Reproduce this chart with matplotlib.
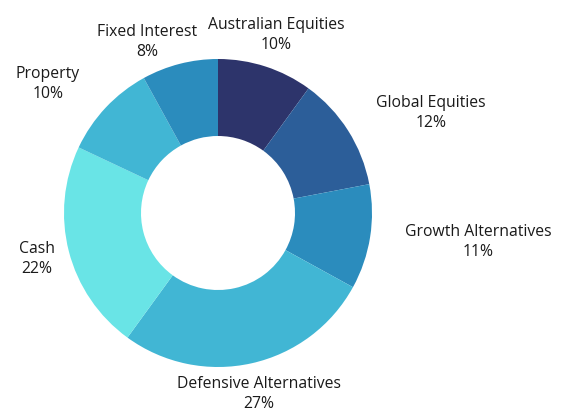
import matplotlib.pyplot as plt

labels = ['Australian Equities', 'Global Equities', 'Growth Alternatives',
          'Defensive Alternatives', 'Cash', 'Property', 'Fixed Interest']
shares = [10, 12, 11, 27, 22, 10, 8]
colors = ['#2d346b', '#2c5e99', '#2b8cbd', '#41b6d4', '#69e4e6', '#41b6d4', '#2b8cbd']

# label centres in pixels (x, y from top) of the 566x409 image
label_pos = [(276, 35), (431, 113), (478, 242), (259, 394), (37, 259), (48, 84), (147, 42)]

W, H = 566, 409
fig = plt.figure(figsize=(W / 100, H / 100), dpi=100)
cx, cy, r = 218, 213, 154
ax = fig.add_axes([(cx - r) / W, (H - cy - r) / H, 2 * r / W, 2 * r / H])

ax.pie(shares, colors=colors, startangle=90, counterclock=False, radius=1,
       wedgeprops=dict(width=0.5, linewidth=0))
ax.set_xlim(-1, 1)
ax.set_ylim(-1, 1)
ax.set_aspect('equal')
ax.axis('off')

for lab, val, (px, py) in zip(labels, shares, label_pos):
    fig.text(px / W, 1 - py / H, f'{lab}\n{val}%', ha='center', va='center',
             fontsize=11.3, family='Open Sans', color='#1a1a1a', linespacing=1.38)

fig.savefig('out.png', dpi=100)
